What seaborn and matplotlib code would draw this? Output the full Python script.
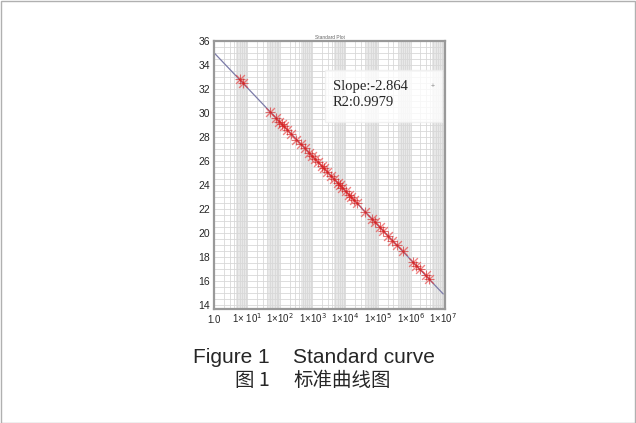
import matplotlib
matplotlib.use('Agg')
import matplotlib.pyplot as plt
import matplotlib.patches as mpatches
from matplotlib.ticker import LogLocator, NullFormatter
import numpy as np
import pandas as pd
import seaborn as sns

# standard curve data: template copies vs Ct
copies = [5.9, 7.5, 51, 77, 98, 115, 135, 170, 220, 325, 450, 575, 790, 1000,
          1180, 1510, 1900, 2240, 2880, 3630, 4650, 5900, 6900, 8100, 10500,
          13200, 15500, 18200, 23000, 40500, 66000, 83500, 115000, 148000,
          204000, 280000, 387000, 575000, 1200000, 1510000, 1910000, 2880000,
          3630000]
ct = [32.8, 32.5, 30.1, 29.6, 29.3, 29.1, 28.9, 28.6, 28.3, 27.8, 27.4, 27.1,
      26.7, 26.4, 26.2, 25.9, 25.6, 25.4, 25.1, 24.8, 24.5, 24.2, 24.0, 23.8,
      23.5, 23.2, 23.0, 22.8, 22.5, 21.8, 21.2, 20.9, 20.5, 20.2, 19.8, 19.4,
      19.0, 18.5, 17.6, 17.3, 17.0, 16.5, 16.2]
slope = -2.864
intercept = 35.0
r2 = 0.9979

x_ticks = [1, 1e1, 1e2, 1e3, 1e4, 1e5, 1e6, 1e7]
x_labels = ['1.0', r'1× 10$^{1}$', r'1×10$^{2}$', r'1×10$^{3}$', r'1×10$^{4}$',
            r'1×10$^{5}$', r'1×10$^{6}$', r'1×10$^{7}$']
y_ticks = [14, 16, 18, 20, 22, 24, 26, 28, 30, 32, 34, 36]

df = pd.DataFrame({'copies': copies, 'ct': ct})
line_x = np.array([1, 1e7])
line_df = pd.DataFrame({'x': line_x, 'y': intercept + slope * np.log10(line_x)})

sns.set_style('white')
plt.rcParams['font.family'] = ['Liberation Sans', 'DejaVu Sans']

fig = plt.figure(figsize=(6.36, 4.23), dpi=100)
fig.patches.append(mpatches.Rectangle((0.001, 0.001), 0.997, 0.997, transform=fig.transFigure,
                                      fill=False, edgecolor='#b0b0b0', lw=1))
ax = fig.add_axes([0.337, 0.2695, 0.362, 0.6335])
ax.set_xscale('log')
ax.set_xlim(1, 1.1e7)
ax.set_ylim(13.7, 36)

# gray bands at the end of each decade
for k in range(7):
    ax.axvspan(4.5 * 10**k, 10**(k + 1), color='#e8e8e8', lw=0, zorder=0)

ax.set_yticks(y_ticks)
ax.set_yticks(np.arange(14, 36, 0.5), minor=True)
ax.xaxis.set_minor_locator(LogLocator(base=10, subs=np.arange(2, 10), numticks=100))
ax.xaxis.set_minor_formatter(NullFormatter())
ax.grid(True, which='both', axis='both', color='#d8d8d8', lw=0.6, zorder=1)
ax.tick_params(which='minor', length=0)

sns.lineplot(data=line_df, x='x', y='y', ax=ax, color='#7b7ba8', lw=0.9, zorder=2)
sns.scatterplot(data=df, x='copies', y='ct', ax=ax, marker='x', s=40,
                color='#e83030', linewidth=1.0, alpha=0.6, zorder=3)
sns.scatterplot(data=df, x='copies', y='ct', ax=ax, marker='+', s=45,
                color='#d01818', linewidth=0.8, alpha=0.6, zorder=3)

ax.set_xticks(x_ticks)
ax.set_xticklabels(x_labels, fontsize=7)
for lbl in ax.get_xticklabels():
    lbl.set_verticalalignment('baseline')
ax.tick_params(axis='y', labelsize=7.5, length=0, pad=3)
ax.tick_params(axis='x', length=0, pad=10)
ax.set_xlabel('')
ax.set_ylabel('')
for s in ax.spines.values():
    s.set_color('#999999')
    s.set_linewidth(1.6)

# fit summary box
ax.add_patch(mpatches.Rectangle((0.48, 0.698), 0.507, 0.194, transform=ax.transAxes,
                                facecolor='white', edgecolor='#eeeeee', alpha=0.8, zorder=4))
ax.text(0.515, 0.832, 'Slope:' + str(slope), transform=ax.transAxes,
        family='Liberation Serif', fontsize=10.5, va='center', ha='left', zorder=5)
ax.text(0.515, 0.769, 'R2:' + str(r2), transform=ax.transAxes,
        family='Liberation Serif', fontsize=10.5, va='center', ha='left', zorder=5)
ax.text(0.948, 0.832, '+', transform=ax.transAxes, fontsize=5, color='#888888',
        ha='center', va='center', zorder=5)
ax.text(0.5, 1.005, 'Standard Plot', transform=ax.transAxes, fontsize=3.5,
        color='#666666', ha='center', va='bottom')

fig.text(193 / 636, 1 - 357 / 423, 'Figure 1', fontsize=15, ha='left', va='center')
fig.text(293 / 636, 1 - 357 / 423, 'Standard curve', fontsize=15, ha='left', va='center')
fig.text(235 / 636, 1 - 380 / 423, '图 1', fontsize=14, ha='left', va='center',
         family=['Noto Sans CJK SC', 'DejaVu Sans'], fontweight='light')
fig.text(293 / 636, 1 - 380 / 423, '标准曲线图', fontsize=14, ha='left', va='center',
         family=['Noto Sans CJK SC', 'DejaVu Sans'], fontweight='light')

fig.savefig('out.png', dpi=100)
